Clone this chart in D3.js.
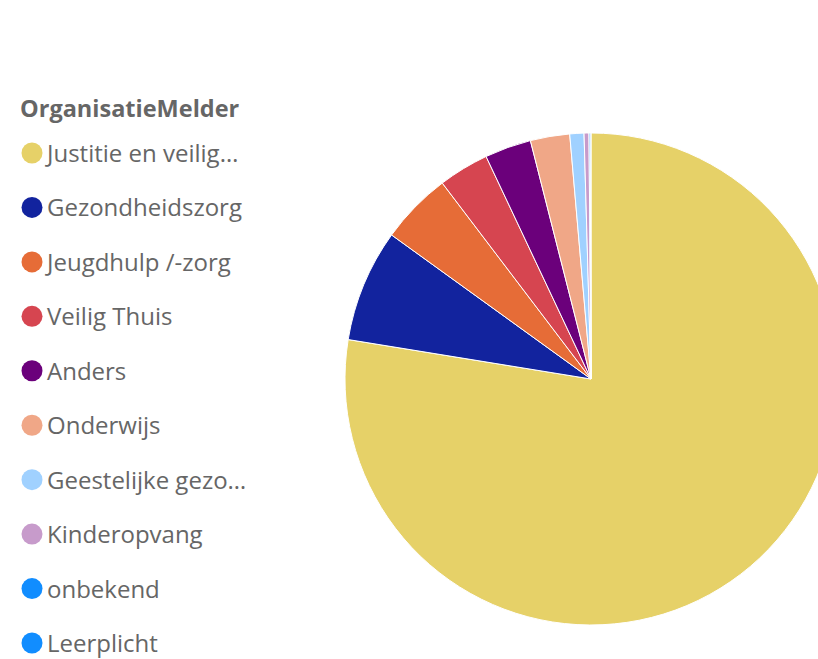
<!DOCTYPE html>
<html>
<head>
<meta charset="utf-8">
<script src="https://cdn.jsdelivr.net/npm/d3@7"></script>
<style>
  body { margin: 0; background: #fff; overflow: hidden; }
  svg { display: block; }
  .legend-title { font-family: "Open Sans", sans-serif; font-weight: 700; font-size: 23.5px; fill: #666; }
  .legend-label { font-family: "Open Sans", sans-serif; font-size: 24px; fill: #666; }
</style>
</head>
<body>
<div id="chart"></div>
<script>
// Data (share of reports, %)
const categories = ['Justitie en veilig…', 'Gezondheidszorg', 'Jeugdhulp /-zorg', 'Veilig Thuis', 'Anders',
    'Onderwijs', 'Geestelijke gezo…', 'Kinderopvang', 'onbekend', 'Leerplicht'];
const values = [77.54, 7.39, 4.71, 3.32, 3.05, 2.58, 0.93, 0.32, 0.08, 0.05];
const colors = ['#E6D168', '#12239E', '#E66C37', '#D64550', '#6B007B',
    '#F0A787', '#A0D1FF', '#C79BCB', '#118DFF', '#118DFF'];
const legendTitle = 'OrganisatieMelder';

const width = 818, height = 659;
const pieCenter = [591, 379], radius = 246;

const svg = d3.select('#chart').append('svg')
    .attr('width', width)
    .attr('height', height);

const data = categories.map((c, i) => ({ name: c, value: values[i] }));
const color = d3.scaleOrdinal().domain(categories).range(colors);

// Pie, starting at 12 o'clock and going clockwise
const pie = d3.pie().sort(null).value(d => d.value);
const arc = d3.arc().innerRadius(0).outerRadius(radius);

const chart = svg.append('g')
    .attr('transform', `translate(${pieCenter[0]},${pieCenter[1]})`);

chart.selectAll('.slice')
    .data(pie(data))
    .join('path')
    .attr('class', 'slice')
    .attr('d', arc)
    .attr('fill', d => color(d.data.name))
    .attr('stroke', '#fff')
    .attr('stroke-width', 1);

// Legend
const legend = svg.append('g').attr('class', 'legend');
legend.append('text')
    .attr('class', 'legend-title')
    .attr('x', 20)
    .attr('y', 117)
    .text(legendTitle);

const rowY = d3.scalePoint().domain(categories).range([153, 643]);

const rows = legend.selectAll('.legend-row')
    .data(data)
    .join('g')
    .attr('class', 'legend-row')
    .attr('transform', d => `translate(0,${rowY(d.name)})`);

rows.append('circle')
    .attr('cx', 32)
    .attr('cy', 0)
    .attr('r', 10.5)
    .attr('fill', d => color(d.name));

rows.append('text')
    .attr('class', 'legend-label')
    .attr('x', 47)
    .attr('y', 9)
    .text(d => d.name);
</script>
</body>
</html>
